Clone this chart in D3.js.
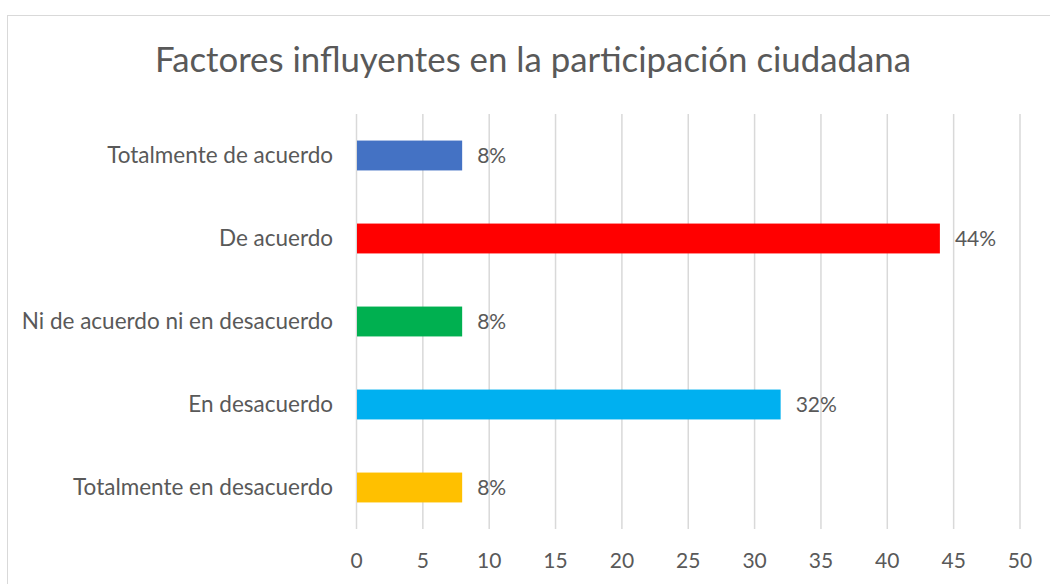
<!DOCTYPE html>
<html><head><meta charset="utf-8">
<script src="https://cdn.jsdelivr.net/npm/d3@7"></script>
<style>body{margin:0;background:#fff;} svg{display:block;} text{font-family:Lato, "Liberation Sans", sans-serif;fill:#595959;}</style>
</head><body>
<script>
const title = "Factores influyentes en la participación ciudadana";
const categories = ["Totalmente de acuerdo","De acuerdo","Ni de acuerdo ni en desacuerdo","En desacuerdo","Totalmente en desacuerdo"];
const values = [8,44,8,32,8];
const labels = ["8%","44%","8%","32%","8%"];
const colors = ["#4472C4","#FF0000","#00B050","#00B0F0","#FFC000"];
const ticks = [0,5,10,15,20,25,30,35,40,45,50];

const W=1050,H=584;
const svg=d3.select("body").append("svg").attr("width",W).attr("height",H);
svg.append("rect").attr("x",7.5).attr("y",15.5).attr("width",1060).attr("height",600).attr("fill","#fff").attr("stroke","#D9D9D9").attr("stroke-width",1);

const x=d3.scaleLinear().domain([0,50]).range([356,1019.5]);
const y=d3.scaleBand().domain(categories).range([114,529]).paddingInner(0.64).paddingOuter(0.32);

const gx=svg.append("g").attr("transform","translate(0,529)")
  .call(d3.axisBottom(x).tickValues(ticks).tickSize(-415).tickPadding(24));
gx.select(".domain").remove();
gx.selectAll(".tick line").attr("stroke","#D9D9D9").attr("stroke-width",1.5);
gx.selectAll(".tick text").attr("font-size",21).style("fill","#595959");

const gy=svg.append("g").attr("transform","translate(356,0)")
  .call(d3.axisLeft(y).tickSize(0).tickPadding(23));
gy.select(".domain").remove();
gy.selectAll(".tick text").attr("font-size",22.5).style("fill","#595959");

svg.selectAll("rect.bar").data(categories).join("rect").attr("class","bar")
  .attr("x",x(0)+1).attr("y",d=>y(d)).attr("width",(d,i)=>x(values[i])-x(0)-1)
  .attr("height",y.bandwidth()).attr("fill",(d,i)=>colors[i]);

svg.selectAll("text.lbl").data(categories).join("text").attr("class","lbl")
  .attr("x",(d,i)=>x(values[i])+15).attr("y",d=>y(d)+y.bandwidth()/2).attr("dy","0.36em")
  .attr("font-size",21).text((d,i)=>labels[i]);

svg.append("text").attr("x",533).attr("y",72).attr("text-anchor","middle").attr("font-size",34.8).text(title);
</script>
</body></html>
